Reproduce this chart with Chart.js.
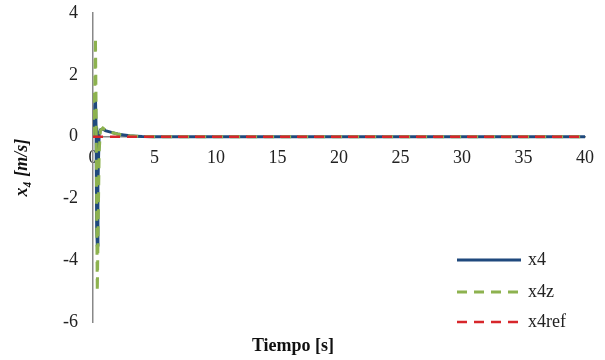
<!DOCTYPE html>
<html>
<head>
<meta charset="utf-8">
<script src="https://cdn.jsdelivr.net/npm/chart.js@4/dist/chart.umd.min.js"></script>
<style>
  html, body { margin: 0; padding: 0; background: #fff; }
  #wrap { width: 605px; height: 360px; }
</style>
</head>
<body>
<div id="wrap"><canvas id="chart" width="605" height="360"></canvas></div>
<script>
// Datos
var tiempo = [0, 0.1, 0.15, 0.2, 0.25, 0.3, 0.35, 0.4, 0.5, 0.6, 0.8, 1, 1.5, 2, 2.5, 3, 3.5, 4, 5, 10, 15, 20, 25, 30, 35, 40];
var x4     = [0, 0.8, 1.0, 1.25, 0.3, -3.0, -3.5, -1.5, 0.1, 0.22, 0.25, 0.2, 0.14, 0.09, 0.06, 0.03, 0.02, 0.01, 0, 0, 0, 0, 0, 0, 0, 0];
var x4z    = [0, 1.5, 1.6, 3.2, 1.0, -2.5, -5.0, -3.5, -0.5, 0.2, 0.28, 0.22, 0.14, 0.09, 0.05, 0.03, 0.02, 0.01, 0, 0, 0, 0, 0, 0, 0, 0];
var x4ref  = [0, 0, 0, 0, 0, 0, 0, 0, 0, 0, 0, 0, 0, 0, 0, 0, 0, 0, 0, 0, 0, 0, 0, 0, 0, 0];

var nombres = ['x4', 'x4z', 'x4ref'];
var yTicks = [-6, -4, -2, 0, 2, 4];
var xTicks = [0, 5, 10, 15, 20, 25, 30, 35, 40];

function puntos(serie) {
  return tiempo.map(function(t, i) { return { x: t, y: serie[i] }; });
}

var fuente = "'Liberation Serif', 'Times New Roman', serif";

// Leyenda dibujada dentro del área del gráfico (abajo a la derecha)
var leyenda = {
  id: 'leyenda',
  afterDraw: function(chart) {
    var ctx = chart.ctx;
    var ys = [260, 292, 322];
    chart.data.datasets.forEach(function(ds, i) {
      ctx.save();
      ctx.strokeStyle = ds.borderColor;
      ctx.lineWidth = ds.borderWidth;
      ctx.setLineDash(ds.borderDash || []);
      ctx.beginPath();
      ctx.moveTo(457, ys[i]);
      ctx.lineTo(521, ys[i]);
      ctx.stroke();
      ctx.setLineDash([]);
      ctx.fillStyle = '#222';
      ctx.font = '18px ' + fuente;
      ctx.textBaseline = 'middle';
      ctx.fillText(ds.label, 528, ys[i]);
      ctx.restore();
    });
  }
};

var chart = new Chart(document.getElementById('chart'), {
  type: 'line',
  data: {
    datasets: [
      { label: nombres[0], data: puntos(x4), borderColor: '#1F497D', borderWidth: 3, order: 2 },
      { label: nombres[1], data: puntos(x4z), borderColor: '#8DB24F', borderWidth: 3, borderDash: [10, 7], order: 1 },
      { label: nombres[2], data: puntos(x4ref), borderColor: '#D7262B', borderWidth: 2.5, borderDash: [10, 7], order: 0 }
    ]
  },
  options: {
    responsive: false,
    animation: false,
    elements: { point: { radius: 0 }, line: { tension: 0 } },
    layout: { padding: { left: 0, right: 19, top: 13, bottom: 0 } },
    plugins: {
      legend: { display: false },
      tooltip: { enabled: false },
      title: {
        display: true,
        position: 'bottom',
        text: 'Tiempo [s]',
        color: '#111',
        font: { family: fuente, size: 18, weight: 'bold' },
        padding: { top: 13, bottom: 3 }
      }
    },
    scales: {
      x: {
        type: 'linear',
        position: { y: 0 },
        min: 0, max: 40,
        afterBuildTicks: function(s) { s.ticks = xTicks.map(function(v) { return { value: v }; }); },
        grid: { display: false, drawTicks: false },
        border: { display: true, color: '#888', width: 1.5 },
        ticks: { color: '#222', padding: 11, maxRotation: 0, font: { family: fuente, size: 18 } }
      },
      y: {
        type: 'linear',
        min: -6, max: 4,
        afterBuildTicks: function(s) { s.ticks = yTicks.map(function(v) { return { value: v }; }); },
        afterFit: function(s) { s.width = 93; s.paddingTop = 0; s.paddingBottom = 0; },
        grid: { display: false, drawTicks: false },
        border: { display: true, color: '#888', width: 1.5 },
        ticks: { color: '#222', padding: 15, font: { family: fuente, size: 18 } },
        title: {
          display: true,
          text: 'x\u2084 [m/s]',
          color: '#111',
          padding: { top: 12, bottom: 0 },
          font: { family: fuente, size: 18, weight: 'bold', style: 'italic' }
        }
      }
    }
  },
  plugins: [leyenda]
});
</script>
</body>
</html>
